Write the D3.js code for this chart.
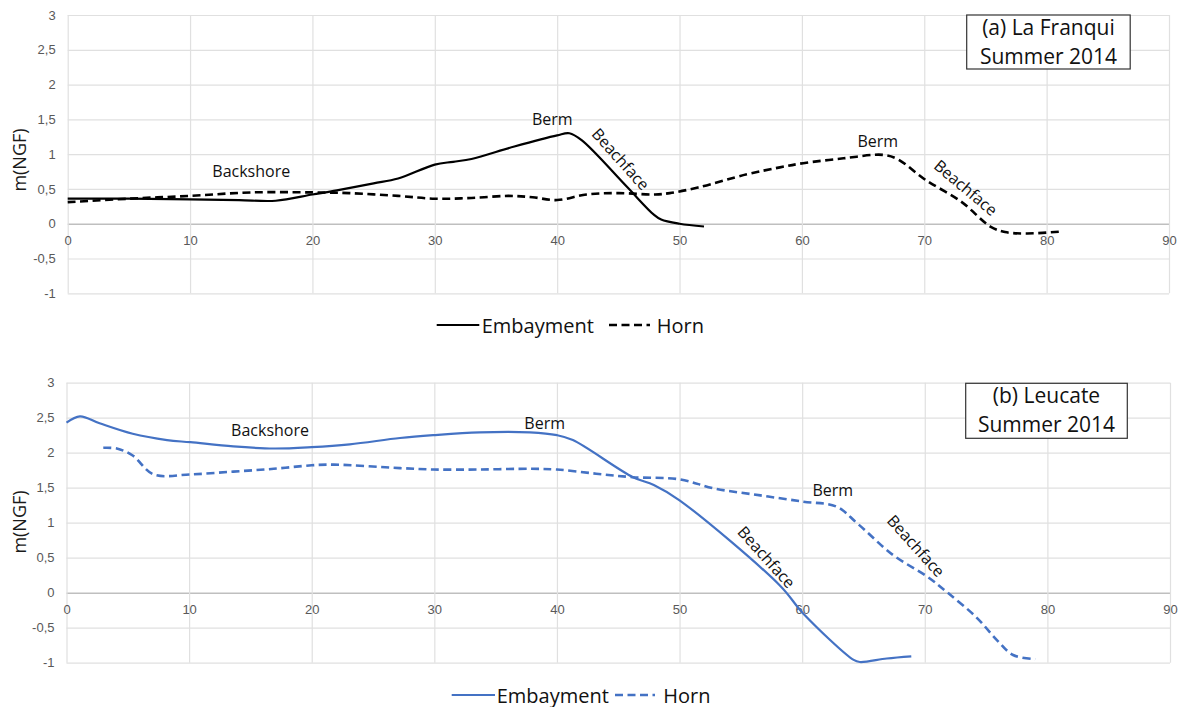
<!DOCTYPE html>
<html>
<head>
<meta charset="utf-8">
<script src="https://cdn.jsdelivr.net/npm/d3@7"></script>
<style>
  html, body { margin: 0; padding: 0; background: #ffffff; }
  svg { display: block; font-family: "Open Sans", "Noto Sans", sans-serif; }
</style>
</head>
<body>
<svg id="chart" width="1183" height="707"></svg>
<script>
// Axis ticks shared by both profiles
const distanceTicks = [0, 10, 20, 30, 40, 50, 60, 70, 80, 90];
const elevationTicks = [-1, -0.5, 0, 0.5, 1, 1.5, 2, 2.5, 3];

// (a) La Franqui, summer 2014 — cross-shore distance (m) and elevation m(NGF)
const franquiEmbaymentX = [0, 5, 10, 14, 17, 20, 22, 25, 27, 30, 31.5, 33, 36.5, 40, 41, 42, 45.7, 47.9, 48.5, 50, 52];
const franquiEmbaymentY = [0.36, 0.36, 0.35, 0.34, 0.33, 0.42, 0.48, 0.58, 0.65, 0.85, 0.89, 0.93, 1.11, 1.27, 1.30, 1.20, 0.53, 0.13, 0.06, 0.00, -0.04];
const franquiHornX = [0, 5, 10, 15, 20, 23, 27, 30, 33, 36, 38, 40, 42.4, 45, 48, 49.2, 51.5, 55.5, 58.2, 60.1, 63.4, 66.6, 67.8, 70.1, 73, 75.4, 76.6, 78.4, 81.3];
const franquiHornY = [0.31, 0.36, 0.40, 0.45, 0.45, 0.44, 0.40, 0.36, 0.37, 0.40, 0.38, 0.34, 0.42, 0.44, 0.42, 0.44, 0.52, 0.71, 0.81, 0.87, 0.94, 0.99, 0.93, 0.63, 0.32, -0.04, -0.12, -0.14, -0.11];

// (b) Leucate, summer 2014
const leucateEmbaymentX = [0, 1.1, 2.7, 5.4, 8.2, 10.1, 13.6, 16.9, 20, 23.1, 27.2, 29.9, 33.7, 37.8, 40, 41.3, 46.2, 47.9, 50, 58.2, 60.1, 64.2, 64.7, 66.9, 68.9];
const leucateEmbaymentY = [2.43, 2.52, 2.42, 2.27, 2.18, 2.15, 2.09, 2.06, 2.08, 2.12, 2.21, 2.25, 2.29, 2.29, 2.25, 2.18, 1.65, 1.54, 1.32, 0.10, -0.30, -0.96, -0.99, -0.94, -0.91];
const leucateHornX = [3, 4.1, 5.4, 7.1, 10.1, 13.6, 16.9, 20, 21.8, 27.2, 29.9, 33.7, 37.8, 40, 43.2, 46.2, 50, 52.8, 56.6, 60.1, 62.8, 64.5, 67.4, 70.2, 71.8, 74.2, 75.9, 77.2, 79];
const leucateHornY = [2.07, 2.06, 1.96, 1.69, 1.69, 1.73, 1.77, 1.82, 1.83, 1.78, 1.76, 1.76, 1.77, 1.76, 1.70, 1.65, 1.62, 1.49, 1.39, 1.30, 1.23, 0.99, 0.54, 0.23, 0.01, -0.35, -0.68, -0.89, -0.95];

const seriesNames = ["Embayment", "Horn"];

const zip = (xs, ys) => xs.map((x, i) => ({ x, y: ys[i] }));
const fmt = d => String(d).replace(".", ",");

const panels = [
  {
    box: { left: 67.7, right: 1169, top: 15, bottom: 293.3 },
    color: "#000000",
    embayment: zip(franquiEmbaymentX, franquiEmbaymentY),
    horn: zip(franquiHornX, franquiHornY),
    titleLines: ["(a) La Franqui", "Summer 2014"],
    titleBox: { x: 966.7, y: 15, w: 163.5, h: 54 },
    yTitleY: 160,
    legendY: 325,
    legend: { solid: [436.7, 479.3], text1: 481.7, dash: [609, 650], text2: 656.7 },
    labels: [
      { t: "Backshore", x: 15.0, y: 0.76, a: 0 },
      { t: "Berm", x: 39.6, y: 1.50, a: 0 },
      { t: "Beachface", x: 45.2, y: 0.93, a: 48 },
      { t: "Berm", x: 66.2, y: 1.19, a: 0 },
      { t: "Beachface", x: 73.4, y: 0.52, a: 40 }
    ]
  },
  {
    box: { left: 66.5, right: 1170, top: 382.7, bottom: 662.7 },
    color: "#4472C4",
    embayment: zip(leucateEmbaymentX, leucateEmbaymentY),
    horn: zip(leucateHornX, leucateHornY),
    titleLines: ["(b) Leucate", "Summer 2014"],
    titleBox: { x: 965.7, y: 383.3, w: 161.6, h: 55 },
    yTitleY: 522,
    legendY: 695,
    legend: { solid: [451.7, 495], text1: 496.7, dash: [615, 655], text2: 663.3 },
    labels: [
      { t: "Backshore", x: 16.6, y: 2.32, a: 0 },
      { t: "Berm", x: 39.0, y: 2.43, a: 0 },
      { t: "Beachface", x: 57.1, y: 0.51, a: 48 },
      { t: "Berm", x: 62.5, y: 1.47, a: 0 },
      { t: "Beachface", x: 69.3, y: 0.67, a: 48 }
    ]
  }
];

const svg = d3.select("#chart");

panels.forEach(p => {
  const b = p.box;
  const x = d3.scaleLinear().domain([0, 90]).range([b.left, b.right]);
  const y = d3.scaleLinear().domain([-1, 3]).range([b.bottom, b.top]);
  const g = svg.append("g");

  // horizontal gridlines + y tick labels
  const yAxis = g.append("g")
    .attr("transform", `translate(${b.left},0)`)
    .call(d3.axisLeft(y).tickValues(elevationTicks).tickFormat(fmt)
      .tickSize(-(b.right - b.left)).tickPadding(12));
  yAxis.select(".domain").remove();
  yAxis.selectAll(".tick line")
    .attr("stroke", d => d === 0 ? "#bfbfbf" : "#e0e0e0")
    .attr("stroke-width", d => d === 0 ? 1.5 : 1.2);
  yAxis.selectAll(".tick text")
    .attr("fill", "#595959").style("font-size", "13px");

  // vertical gridlines
  const xGrid = g.append("g")
    .attr("transform", `translate(0,${b.bottom})`)
    .call(d3.axisBottom(x).tickValues(distanceTicks).tickFormat("")
      .tickSize(-(b.bottom - b.top)));
  xGrid.select(".domain").remove();
  xGrid.selectAll(".tick line").attr("stroke", "#e0e0e0").attr("stroke-width", 1.2);

  // x tick labels sitting under the zero line
  const xAxis = g.append("g")
    .attr("transform", `translate(0,${y(0)})`)
    .call(d3.axisBottom(x).tickValues(distanceTicks).tickSize(0).tickPadding(12));
  xAxis.select(".domain").remove();
  xAxis.selectAll(".tick text")
    .attr("fill", "#595959").style("font-size", "13px");

  // y axis title
  g.append("text")
    .attr("transform", `translate(26,${p.yTitleY}) rotate(-90)`)
    .attr("text-anchor", "middle")
    .attr("fill", "#1a1a1a")
    .style("font-size", "18px")
    .text("m(NGF)");

  const line = d3.line().x(d => x(d.x)).y(d => y(d.y)).curve(d3.curveCatmullRom.alpha(0.5));

  g.append("path").datum(p.embayment)
    .attr("d", line).attr("fill", "none")
    .attr("stroke", p.color).attr("stroke-width", 2.2);
  g.append("path").datum(p.horn)
    .attr("d", line).attr("fill", "none")
    .attr("stroke", p.color).attr("stroke-width", 2.6)
    .attr("stroke-dasharray", "8,4.5");

  // profile zone annotations
  p.labels.forEach(l => {
    g.append("text")
      .attr("transform", `translate(${x(l.x)},${y(l.y)}) rotate(${l.a})`)
      .attr("text-anchor", "middle")
      .attr("dominant-baseline", "central")
      .attr("fill", "#111")
      .style("font-size", "16px")
      .text(l.t);
  });

  // site / season box
  const tb = p.titleBox;
  g.append("rect")
    .attr("x", tb.x).attr("y", tb.y).attr("width", tb.w).attr("height", tb.h)
    .attr("fill", "#fff").attr("stroke", "#333").attr("stroke-width", 1.2);
  p.titleLines.forEach((t, i) => {
    g.append("text")
      .attr("x", tb.x + tb.w / 2).attr("y", tb.y + 20 + i * 29)
      .attr("text-anchor", "middle")
      .attr("fill", "#111")
      .style("font-size", "21px")
      .text(t);
  });

  // legend
  const lg = p.legend;
  g.append("line")
    .attr("x1", lg.solid[0]).attr("x2", lg.solid[1])
    .attr("y1", p.legendY).attr("y2", p.legendY)
    .attr("stroke", p.color).attr("stroke-width", 2.2);
  g.append("text")
    .attr("x", lg.text1).attr("y", p.legendY)
    .attr("dominant-baseline", "central")
    .attr("fill", "#111").style("font-size", "20px")
    .text(seriesNames[0]);
  g.append("line")
    .attr("x1", lg.dash[0]).attr("x2", lg.dash[1])
    .attr("y1", p.legendY).attr("y2", p.legendY)
    .attr("stroke", p.color).attr("stroke-width", 2.6)
    .attr("stroke-dasharray", "8,4.5");
  g.append("text")
    .attr("x", lg.text2).attr("y", p.legendY)
    .attr("dominant-baseline", "central")
    .attr("fill", "#111").style("font-size", "20px")
    .text(seriesNames[1]);
});
</script>
</body>
</html>
